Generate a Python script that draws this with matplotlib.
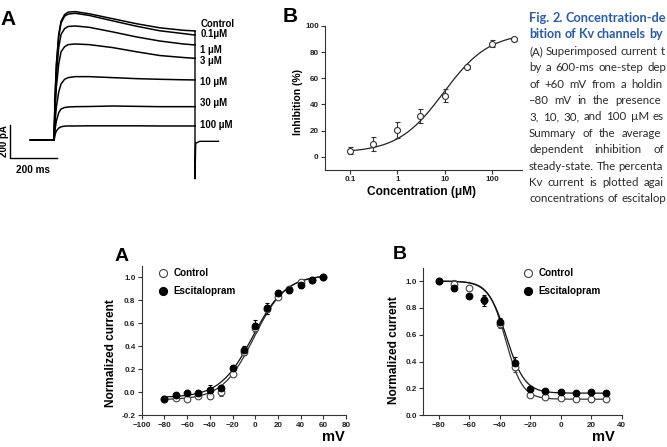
import numpy as np
import matplotlib
matplotlib.use("Agg")
import matplotlib.pyplot as plt
from matplotlib.ticker import FixedLocator, NullLocator

plt.rcParams['font.family'] = ['Liberation Sans', 'DejaVu Sans']
plt.rcParams['font.weight'] = 'bold'
plt.rcParams['axes.labelweight'] = 'bold'

W, H = 667, 447

# ---- panel A (top): current traces, pA vs ms ----
trace_t = [-100, 0, 5, 10, 20, 30, 45, 60, 90, 150, 250, 350, 450, 550, 600]
trace_control = [0, 0, 280, 460, 640, 720, 760, 775, 778, 765, 735, 705, 680, 665, 661]
trace_01 = [0, 0, 270, 445, 625, 710, 750, 763, 768, 755, 722, 690, 662, 645, 636]
trace_1 = [0, 0, 230, 390, 560, 640, 675, 688, 691, 683, 655, 625, 600, 582, 576]
trace_3 = [0, 0, 190, 320, 460, 535, 565, 578, 582, 578, 560, 535, 512, 500, 495]
trace_10 = [0, 0, 120, 200, 290, 340, 368, 378, 384, 384, 378, 372, 368, 365, 364]
trace_30 = [0, 0, 70, 115, 165, 188, 197, 200, 202, 203, 206, 204, 202, 202, 202]
trace_100 = [0, 0, 35, 55, 72, 80, 84, 85, 85, 86, 86, 86, 85, 85, 85]
trace_labels = ['Control', '0.1\u03bcM', '1 \u03bcM', '3 \u03bcM', '10 \u03bcM', '30 \u03bcM', '100 \u03bcM']
tail_t = [600, 600, 603, 620, 700]
tail_pa = [661, -235, -20, -8, -8]
onset_spike_pa = 255

# ---- panel B (top): concentration-response ----
conc = [0.1, 0.3, 1, 3, 10, 30, 100, 300]
inhib = [4.6, 9.5, 20.4, 31.3, 46.8, 68.9, 86.5, 89.8]
inhib_err = [2.5, 5.5, 5.8, 5.5, 5.0, 1.5, 2.5, 1.0]
hill_min, hill_max, ic50, n_hill = 3.0, 95.0, 9.5, 0.9

# ---- bottom A: activation ----
act_v = [-80, -70, -60, -50, -40, -30, -20, -10, 0, 10, 20, 30, 40, 50, 60]
act_ctrl = [-0.055, -0.05, -0.055, -0.03, -0.03, 0.0, 0.16, 0.35, 0.56, 0.72, 0.83, 0.90, 0.96, 0.98, 1.0]
act_ctrl_err = [0.01, 0.015, 0.015, 0.02, 0.025, 0.03, 0.02, 0.03, 0.04, 0.04, 0.02, 0.02, 0.015, 0.015, 0.0]
act_esc = [-0.055, -0.025, -0.005, -0.005, 0.02, 0.035, 0.215, 0.366, 0.58, 0.73, 0.865, 0.885, 0.93, 0.975, 1.0]
act_esc_err = [0.01, 0.015, 0.025, 0.025, 0.04, 0.03, 0.02, 0.04, 0.05, 0.05, 0.02, 0.02, 0.02, 0.015, 0.0]
act_fit_ctrl = (-0.065, 1.02, -1.0, 14.0)
act_fit_esc = (-0.045, 1.02, -2.0, 14.5)

# ---- bottom B: inactivation ----
inact_v = [-80, -70, -60, -50, -40, -30, -20, -10, 0, 10, 20, 30]
inact_ctrl = [1.0, 0.98, 0.95, 0.86, 0.68, 0.36, 0.155, 0.14, 0.13, 0.125, 0.12, 0.12]
inact_ctrl_err = [0.0, 0.03, 0.015, 0.03, 0.03, 0.04, 0.015, 0.015, 0.015, 0.015, 0.02, 0.015]
inact_esc = [1.0, 0.945, 0.888, 0.856, 0.695, 0.387, 0.196, 0.181, 0.17, 0.165, 0.17, 0.165]
inact_esc_err = [0.0, 0.02, 0.015, 0.04, 0.03, 0.05, 0.02, 0.015, 0.015, 0.015, 0.015, 0.015]
inact_fit_ctrl = (0.12, 1.0, -36.0, -5.5)
inact_fit_esc = (0.165, 1.0, -35.5, -6.0)

# caption, as far as it is visible inside the picture
caption_title = ['Fig. 2. Concentration-de',
                 'bition of Kv channels by']
caption_body = ['(A) Superimposed current t',
                'by a 600-ms one-step dep',
                'of +60 mV from a holdin',
                '\u201380 mV in the presence',
                '3, 10, 30, and 100 \u00b5M es',
                'Summary of the average',
                'dependent inhibition of',
                'steady-state. The percenta',
                'Kv current is plotted agai',
                'concentrations of escitalop']
caption_right = [666, 662.5, 665, 666, 662.5, 660.5, 664, 661.5, 664, 662.5, 664, 666]


def box(x0, y0, x1, y1):
    # pixel box (top-left origin) -> figure fraction rect
    return [x0 / W, 1 - y1 / H, (x1 - x0) / W, (y1 - y0) / H]


def boltz(v, p):
    lo, hi, vh, k = p
    return lo + (hi - lo) / (1 + np.exp((vh - v) / k))


def style_axes(ax):
    for s in ['top', 'right']:
        ax.spines[s].set_visible(False)
    for s in ['left', 'bottom']:
        ax.spines[s].set_linewidth(0.8)
        ax.spines[s].set_color('#333333')
    ax.tick_params(direction='out', length=3, width=0.8, color='#333333',
                   labelsize=5.8, labelcolor='#222222', pad=1.5)


def bold_ticks(ax):
    for lab in ax.get_xticklabels() + ax.get_yticklabels():
        lab.set_fontweight('bold')


fig = plt.figure(figsize=(W / 100, H / 100), dpi=100)

# traces
ax = fig.add_axes(box(0, 0, 240, 190))
ax.set_xlim(-229.8, 791.5)
ax.set_ylim(-303, 848.5)
ax.axis('off')
traces = [trace_control, trace_01, trace_1, trace_3, trace_10, trace_30, trace_100]
for tr in traces:
    ax.plot(trace_t, tr, color='black', lw=1.1)
ax.plot([0, 0], [0, onset_spike_pa], color='black', lw=0.8)
ax.plot(tail_t, tail_pa, color='black', lw=1.0)
label_y = [703, 642, 545, 479, 352, 224, 91]
for lab, ly in zip(trace_labels, label_y):
    ax.text(622, ly, lab, fontsize=6.9, va='center', ha='left')
ax.plot([-187, -187, 13], [91, -109, -109], color='black', lw=1.0)
ax.text(-212, -9, '200 pA', rotation=90, fontsize=7.0, ha='center', va='center')
ax.text(-89, -182, '200 ms', fontsize=7.2, ha='center', va='center')
fig.text(8 / W, 1 - 19.5 / H, 'A', fontsize=15, ha='center', va='center')

# concentration-response
ax = fig.add_axes(box(325, 26, 521.7, 170))
style_axes(ax)
ax.set_xscale('log')
ax.set_xlim(10 ** -1.53, 10 ** 2.63)
ax.set_ylim(-10.2, 100)
ax.xaxis.set_major_locator(FixedLocator([0.1, 1, 10, 100]))
ax.xaxis.set_minor_locator(NullLocator())
ax.set_xticklabels(['0.1', '1', '10', '100'])
ax.set_yticks([0, 20, 40, 60, 80, 100])
bold_ticks(ax)
xc = np.logspace(-1, np.log10(300), 200)
ax.plot(xc, hill_min + (hill_max - hill_min) / (1 + (ic50 / xc) ** n_hill),
        color='#222222', lw=0.9)
ax.errorbar(conc, inhib, yerr=inhib_err, fmt='o', mfc='white', mec='#333333',
            ms=4.3, mew=0.8, ecolor='#333333', elinewidth=0.8, capsize=1.8, capthick=0.8)
ax.set_ylabel('Inhibition (%)', fontsize=7.5)
ax.yaxis.set_label_coords(-0.113, 0.469)
ax.set_xlabel('Concentration (\u03bcM)', fontsize=8.6)
ax.xaxis.set_label_coords(0.49, -0.11)
fig.text(290 / W, 1 - 17 / H, 'B', fontsize=15, ha='center', va='center')


def iv_panel(rect, v, ctrl, ctrl_err, esc, esc_err, fit_c, fit_e, xlim, ylim, xticks,
             yticks, ylab_xy, mv_xy, leg_x, leg_y, letter_xy, letter):
    ax = fig.add_axes(rect)
    style_axes(ax)
    ax.set_xlim(*xlim)
    ax.set_ylim(*ylim)
    ax.set_xticks(xticks)
    ax.set_yticks(yticks)
    ax.set_yticklabels(['%.1f' % t for t in yticks])
    bold_ticks(ax)
    vv = np.linspace(v[0], v[-1], 200)
    ax.plot(vv, boltz(vv, fit_c), color='#333333', lw=0.9)
    ax.plot(vv, boltz(vv, fit_e), color='#111111', lw=0.9)
    ax.errorbar(v, ctrl, yerr=ctrl_err, fmt='o', mfc='white', mec='#444444', ms=4.8,
                mew=0.8, ecolor='#444444', elinewidth=0.8, capsize=1.5, capthick=0.8)
    ax.errorbar(v, esc, yerr=esc_err, fmt='o', mfc='black', mec='black', ms=4.8,
                mew=0.8, ecolor='black', elinewidth=0.8, capsize=1.5, capthick=0.8)
    ax.set_ylabel('Normalized current', fontsize=8.6)
    ax.yaxis.set_label_coords(*ylab_xy)
    ax.text(mv_xy[0], mv_xy[1], 'mV', fontsize=10.5, ha='center', va='center',
            transform=ax.transAxes)
    ax.plot([leg_x], [leg_y[0]], 'o', mfc='white', mec='#444444', ms=5.8, mew=0.8,
            transform=ax.transAxes, clip_on=False)
    ax.plot([leg_x], [leg_y[1]], 'o', mfc='black', mec='black', ms=5.8, mew=0.8,
            transform=ax.transAxes, clip_on=False)
    ax.text(leg_x + 0.05, leg_y[0], 'Control', fontsize=7.1, va='center',
            transform=ax.transAxes)
    ax.text(leg_x + 0.05, leg_y[1], 'Escitalopram', fontsize=7.1, va='center',
            transform=ax.transAxes)
    fig.text(letter_xy[0] / W, 1 - letter_xy[1] / H, letter, fontsize=14,
             ha='center', va='center')


iv_panel(box(141.7, 265.7, 346, 415.3), act_v, act_ctrl, act_ctrl_err, act_esc, act_esc_err,
         act_fit_ctrl, act_fit_esc, (-100, 80), (-0.2, 1.1), list(range(-100, 81, 20)),
         [-0.2, 0.0, 0.2, 0.4, 0.6, 0.8, 1.0], (-0.119, 0.416), (0.939, -0.145),
         0.106, (0.949, 0.831), (121.7, 256.5), 'A')
iv_panel(box(423.3, 267.7, 621.7, 415.3), inact_v, inact_ctrl, inact_ctrl_err, inact_esc,
         inact_esc_err, inact_fit_ctrl, inact_fit_esc, (-90, 40), (0, 1.1),
         list(range(-80, 41, 20)), [0.0, 0.2, 0.4, 0.6, 0.8, 1.0], (-0.117, 0.44),
         (0.907, -0.147), 0.529, (0.962, 0.842), (400, 254.5), 'B')


# caption: justified lines, cut where the picture ends
def justified(line, y, x_right, size, color, weight, min_gap, measure=False):
    words = line.split(' ')
    ts = [fig.text(0, 1 - y / H, wd, fontsize=size, color=color, weight=weight,
                   family='Lato', va='baseline') for wd in words]
    for _ in range(25):
        fig.canvas.draw()
        ws = [t.get_window_extent().width for t in ts]
        gap = (x_right - 529 - sum(ws)) / max(len(words) - 1, 1)
        if gap >= min_gap:
            break
        size *= 0.98
        for t in ts:
            t.set_fontsize(size)
    if measure:
        for t in ts:
            t.remove()
        return size
    x = 529
    for t, w in zip(ts, ws):
        t.set_x(x / W)
        x += w + gap
    return size


y0 = 22
for i, line in enumerate(caption_title):
    justified(line, y0 + 16.4 * i, caption_right[i], 9.8, '#2b5ca8', 'bold', 2.4)
body_size = min(justified(line, 0, caption_right[i + 2], 9.0, '#2a2a2a', 'normal', 2.0,
                          measure=True) for i, line in enumerate(caption_body))
for i, line in enumerate(caption_body):
    justified(line, y0 + 16.4 * (i + 2), caption_right[i + 2], body_size, '#2a2a2a',
              'normal', 0.5)

fig.savefig('out.png', dpi=100)
